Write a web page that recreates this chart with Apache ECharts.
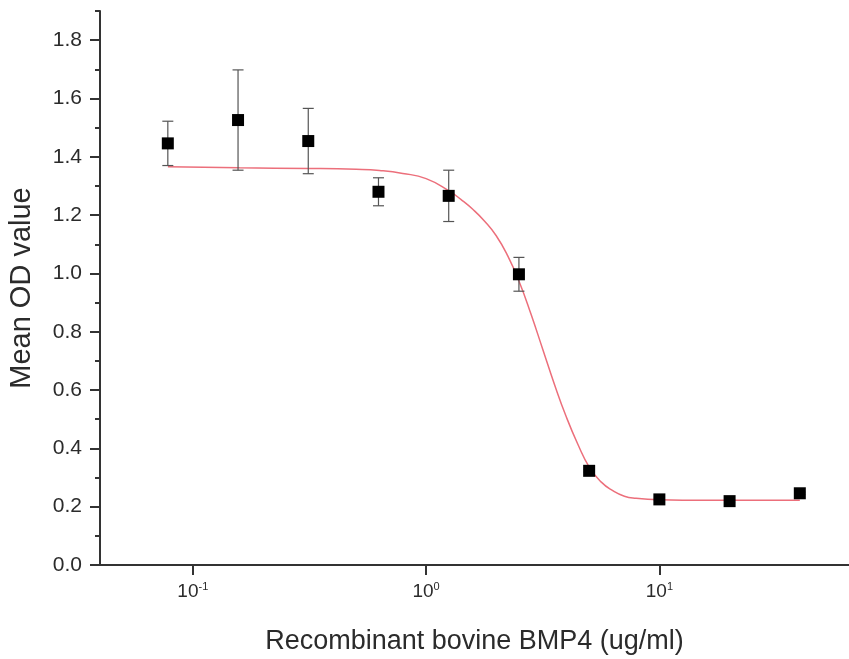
<!DOCTYPE html>
<html><head><meta charset="utf-8">
<script src="https://cdn.jsdelivr.net/npm/echarts@6/dist/echarts.min.js"></script>
<style>html,body{margin:0;padding:0;background:#fff}#c{width:849px;height:659px}</style>
</head><body><div id="c"></div>
<script>
// Measured data (concentration in ug/ml, mean OD, SD)
const concentrations = [0.078125, 0.15625, 0.3125, 0.625, 1.25, 2.5, 5, 10, 20, 40];
const meanOD = [1.446, 1.526, 1.454, 1.280, 1.266, 0.997, 0.323, 0.225, 0.219, 0.246];
const sdOD = [0.076, 0.172, 0.112, 0.048, 0.088, 0.058, 0.004, 0.004, 0.004, 0.004];
// Fitted curve
const fitConc = [0.0782, 0.1585, 0.3162, 0.5012, 0.6310, 0.7943, 1, 1.259, 1.413, 1.585, 1.778, 1.995, 2.239, 2.512, 2.818, 3.162, 3.548, 3.981, 4.467, 5.012, 5.623, 6.310, 7.079, 7.943, 10, 15.85, 40];
const fitOD = [1.366, 1.362, 1.360, 1.357, 1.353, 1.343, 1.325, 1.282, 1.253, 1.220, 1.180, 1.130, 1.060, 0.970, 0.860, 0.740, 0.620, 0.510, 0.415, 0.335, 0.285, 0.255, 0.236, 0.229, 0.224, 0.222, 0.222];
// Axis settings
const xRangeConc = [0.04, 65];
const xTickExponents = [-1, 0, 1];
const yMajorTicks = [0, 0.2, 0.4, 0.6, 0.8, 1.0, 1.2, 1.4, 1.6, 1.8];
const yMinorTicks = [0.1, 0.3, 0.5, 0.7, 0.9, 1.1, 1.3, 1.5, 1.7, 1.9];
const yRange = [0, 1.9];

const L = Math.log10;
const font = 'Liberation Sans, Arial, sans-serif';
const axisColor = '#333';
const textColor = '#2b2b2b';

const chart = echarts.init(document.getElementById('c'), null, {renderer: 'canvas'});
const pts = concentrations.map((c, i) => [L(c), meanOD[i]]);
const errs = concentrations.map((c, i) => [L(c), meanOD[i] - sdOD[i], meanOD[i] + sdOD[i]]);
const fit = fitConc.map((c, i) => [L(c), fitOD[i]]);

chart.setOption({
  animation: false,
  backgroundColor: '#fff',
  grid: {left: 100, right: 0, top: 11, bottom: 94, containLabel: false, outerBoundsMode: 'none'},
  xAxis: {
    type: 'value', min: L(xRangeConc[0]), max: L(xRangeConc[1]),
    splitLine: {show: false},
    axisLine: {show: true, onZero: false, lineStyle: {color: axisColor, width: 2}},
    axisTick: {show: true, length: 10, customValues: xTickExponents, lineStyle: {color: axisColor, width: 2}},
    axisLabel: {
      customValues: xTickExponents, margin: 16, color: textColor, fontFamily: font,
      formatter: v => '{b|10}{s|' + Math.round(v) + '}',
      rich: {
        b: {fontSize: 19, fontFamily: font, color: textColor, lineHeight: 21},
        s: {fontSize: 11, fontFamily: font, color: textColor, verticalAlign: 'top', lineHeight: 21}
      }
    },
    name: 'Recombinant bovine BMP4 (ug/ml)', nameLocation: 'middle', nameGap: 63,
    nameTextStyle: {fontSize: 27, fontFamily: font, color: textColor}
  },
  yAxis: [{
    type: 'value', min: yRange[0], max: yRange[1],
    splitLine: {show: false},
    axisLine: {show: true, onZero: false, lineStyle: {color: axisColor, width: 2}},
    axisTick: {show: true, length: 10, customValues: yMajorTicks, lineStyle: {color: axisColor, width: 2}},
    axisLabel: {customValues: yMajorTicks, margin: 18, fontSize: 21, fontFamily: font, color: textColor,
      formatter: v => v.toFixed(1)},
    name: 'Mean OD value', nameLocation: 'middle', nameGap: 64,
    nameTextStyle: {fontSize: 29, fontFamily: font, color: textColor}
  }, {
    type: 'value', min: yRange[0], max: yRange[1], position: 'left',
    splitLine: {show: false},
    axisLine: {show: false, onZero: false},
    axisTick: {show: true, length: 5, customValues: yMinorTicks, lineStyle: {color: axisColor, width: 2}},
    axisLabel: {show: false}
  }],
  series: [{
    type: 'line', data: fit, smooth: 0.5, showSymbol: false, symbol: 'none',
    lineStyle: {color: '#ec6f7b', width: 1.5}, z: 2
  }, {
    type: 'custom', data: errs, z: 3,
    renderItem: (params, api) => {
      const x = api.value(0);
      const lo = api.coord([x, api.value(1)]);
      const hi = api.coord([x, api.value(2)]);
      const w = 5.5;
      const style = {stroke: '#555', lineWidth: 1.2};
      return {type: 'group', children: [
        {type: 'line', shape: {x1: lo[0], y1: lo[1], x2: hi[0], y2: hi[1]}, style},
        {type: 'line', shape: {x1: lo[0] - w, y1: lo[1], x2: lo[0] + w, y2: lo[1]}, style},
        {type: 'line', shape: {x1: hi[0] - w, y1: hi[1], x2: hi[0] + w, y2: hi[1]}, style}
      ]};
    }
  }, {
    type: 'scatter', data: pts, symbol: 'rect', symbolSize: 12,
    itemStyle: {color: '#000', opacity: 1}, z: 4
  }]
});
</script></body></html>
